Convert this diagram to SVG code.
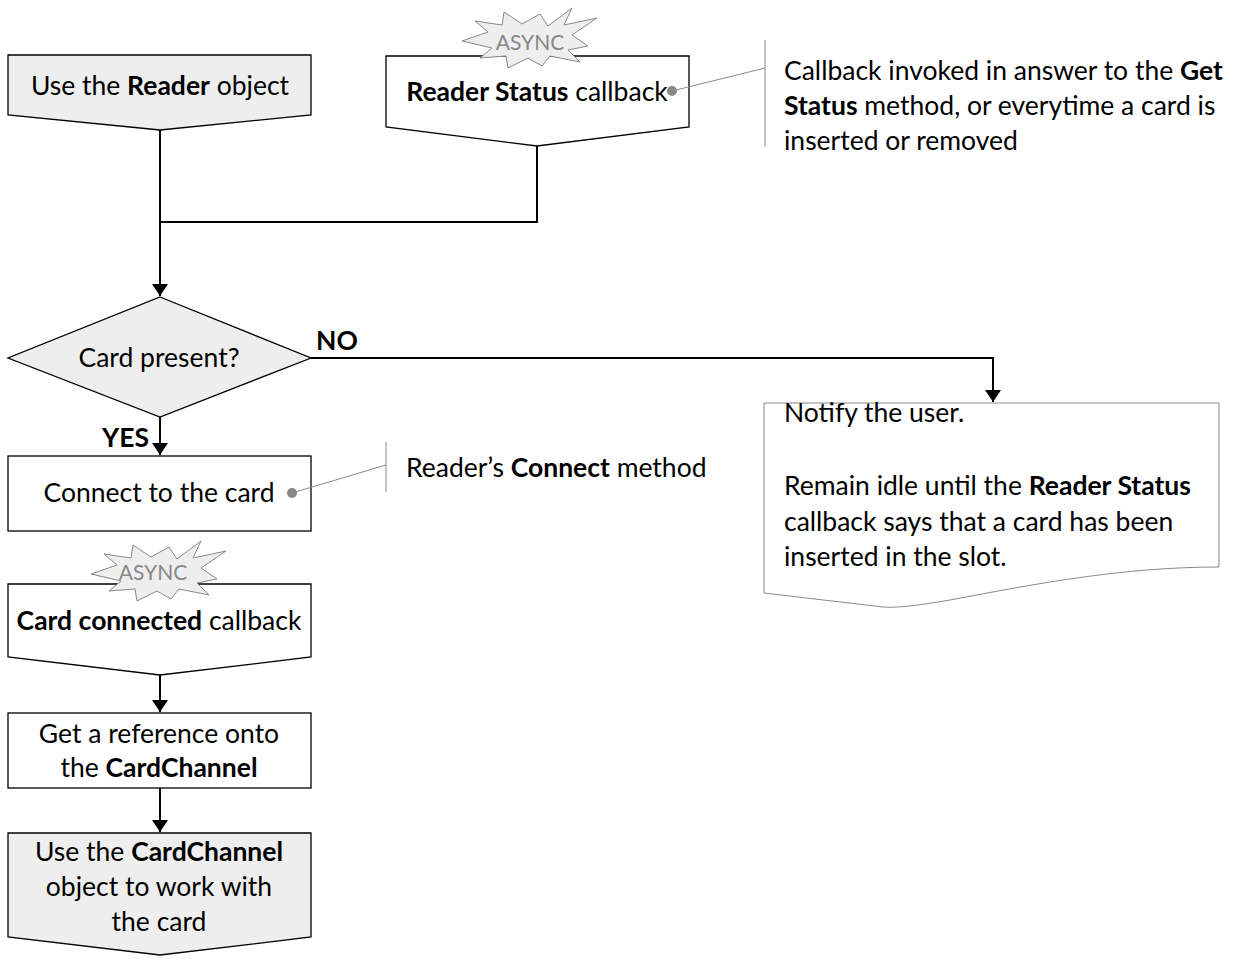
<svg xmlns="http://www.w3.org/2000/svg" width="1237" height="960" viewBox="0 0 1237 960">
<defs>
<marker id="arr" viewBox="0 0 12 16" refX="12" refY="8" markerWidth="12" markerHeight="16" markerUnits="userSpaceOnUse" orient="auto">
<path d="M0,0 L12,8 L0,16 Z" fill="#000"/>
</marker>
<polygon id="burst" points="-68,3 -42,-6 -55,-17 -28,-13 -26,-26 -8,-14 10,-24 18,-12 42,-30 34,-13 67,-20 42,-3 58,8 38,12 50,24 20,18 12,28 -2,20 -22,30 -24,18 -50,20 -38,10"/>
<style>
.node{stroke:#000;stroke-width:1.3;}
.gray{fill:#eeeeee;}
.white{fill:#ffffff;}
.t{font-family:Lato,"Liberation Sans",sans-serif;font-size:26.5px;fill:#000;}
.c{text-anchor:middle;}
.b{font-weight:bold;}
.conn{fill:none;stroke:#000;stroke-width:2;}
.call{fill:none;stroke:#888;stroke-width:1;}
.burst{fill:#eeeeee;stroke:#888;stroke-width:1;}
.async{font-family:Lato,"Liberation Sans",sans-serif;font-size:21px;fill:#888;text-anchor:middle;}
.dot{fill:#888;}
</style>
</defs>
<rect width="1237" height="960" fill="#fff"/>

<g id="connectors">
<path class="conn" d="M160,130 V222"/>
<path class="conn" d="M537,146 V222 H160"/>
<path class="conn" d="M160,222 V296" marker-end="url(#arr)"/>
<path class="conn" d="M311,358 H993 V402" marker-end="url(#arr)"/>
<path class="conn" d="M160,417 V455" marker-end="url(#arr)"/>
<path class="conn" d="M160,675 V712" marker-end="url(#arr)"/>
<path class="conn" d="M160,788 V832" marker-end="url(#arr)"/>
<text class="t b" x="316" y="350">NO</text>
<text class="t b" x="102" y="447">YES</text>
</g>

<g id="use-reader">
<path class="node gray" d="M8,55 H311 V115 L160,130 L8,115 Z"/>
<text class="t c" x="160" y="95">Use the <tspan class="b">Reader</tspan> object</text>
</g>

<g id="reader-status">
<path class="node white" d="M386,56 H689 V127 L537,146 L386,127 Z"/>
<use href="#burst" class="burst" transform="translate(530,38)"/>
<text class="async" x="530" y="50">ASYNC</text>
<text class="t c" x="537" y="101"><tspan class="b">Reader Status</tspan> callback</text>
</g>

<g id="reader-status-note">
<path class="call" d="M672,91 L765,68"/>
<path class="call" d="M765,40 V147"/>
<circle class="dot" cx="672" cy="91" r="5"/>
<text class="t" x="784" y="80">Callback invoked in answer to the <tspan class="b">Get</tspan></text>
<text class="t" x="784" y="115"><tspan class="b">Status</tspan> method, or everytime a card is</text>
<text class="t" x="784" y="150">inserted or removed</text>
</g>

<g id="card-present">
<path class="node gray" d="M160,297 L311,358 L160,417 L8,358 Z"/>
<text class="t c" x="159" y="367">Card present?</text>
</g>

<g id="notify">
<path d="M764,403 H1219 V567 C1120,567 1030,585 950,600 C915,606 895,608 883,607 L764,593 Z" fill="#fff" stroke="#888" stroke-width="1"/>
<text class="t" x="784" y="422">Notify the user.</text>
<text class="t" x="784" y="495">Remain idle until the <tspan class="b">Reader Status</tspan></text>
<text class="t" x="784" y="531">callback says that a card has been</text>
<text class="t" x="784" y="566">inserted in the slot.</text>
</g>

<g id="connect">
<rect class="node white" x="8" y="456" width="303" height="75"/>
<text class="t c" x="159" y="502">Connect to the card</text>
</g>

<g id="connect-note">
<path class="call" d="M292,493 L386,465"/>
<path class="call" d="M386,442 V492"/>
<circle class="dot" cx="292" cy="493" r="5"/>
<text class="t" x="406" y="477">Reader’s <tspan class="b">Connect</tspan> method</text>
</g>

<g id="card-connected">
<path class="node white" d="M8,584 H311 V657 L160,675 L8,657 Z"/>
<use href="#burst" class="burst" transform="translate(159,571)"/>
<text class="async" x="153" y="580">ASYNC</text>
<text class="t c" x="159" y="630"><tspan class="b">Card connected</tspan> callback</text>
</g>

<g id="get-reference">
<rect class="node white" x="8" y="713" width="303" height="75"/>
<text class="t c" x="159" y="743">Get a reference onto</text>
<text class="t c" x="159" y="777">the <tspan class="b">CardChannel</tspan></text>
</g>

<g id="use-cardchannel">
<path class="node gray" d="M8,833 H311 V937 L160,955 L8,937 Z"/>
<text class="t c" x="159" y="861">Use the <tspan class="b">CardChannel</tspan></text>
<text class="t c" x="159" y="896">object to work with</text>
<text class="t c" x="159" y="931">the card</text>
</g>
</svg>
